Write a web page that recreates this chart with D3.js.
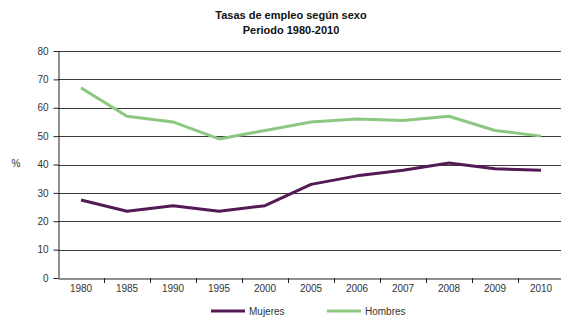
<!DOCTYPE html>
<html>
<head>
<meta charset="utf-8">
<script src="https://cdn.jsdelivr.net/npm/d3@7"></script>
<style>
  body { margin: 0; background: #fff; }
  text { font-family: "Liberation Sans", Arial, sans-serif; }
</style>
</head>
<body>
<div id="chart"></div>
<script>
var years = ["1980", "1985", "1990", "1995", "2000", "2005", "2006", "2007", "2008", "2009", "2010"];
var mujeres = [27.5, 23.5, 25.5, 23.5, 25.5, 33, 36, 38, 40.5, 38.5, 38];
var hombres = [67, 57, 55, 49, 52, 55, 56, 55.5, 57, 52, 50];
var yTicks = [0, 10, 20, 30, 40, 50, 60, 70, 80];

var width = 561,
    height = 317;

var plotLeft = 58, plotTop = 51, plotBottom = 278, plotRight = 564;

var svg = d3.select("#chart")
    .append("svg")
    .attr("width", width)
    .attr("height", height);

var x = d3.scaleBand()
    .domain(years)
    .range([plotLeft, plotRight]);

var y = d3.scaleLinear()
    .domain([0, 80])
    .range([plotBottom, plotTop]);

// title
svg.append("text")
    .attr("x", 291).attr("y", 19)
    .attr("text-anchor", "middle")
    .style("font-size", "11px").style("font-weight", "bold").attr("fill", "#111")
    .text("Tasas de empleo según sexo");
svg.append("text")
    .attr("x", 291).attr("y", 34)
    .attr("text-anchor", "middle")
    .style("font-size", "11px").style("font-weight", "bold").attr("fill", "#111")
    .text("Periodo 1980-2010");

// gridlines
svg.selectAll(".grid")
    .data(yTicks.filter(function (d) { return d > 0; }))
    .enter().append("line")
    .attr("x1", plotLeft).attr("x2", width)
    .attr("y1", function (d) { return Math.round(y(d)) + 0.5; })
    .attr("y2", function (d) { return Math.round(y(d)) + 0.5; })
    .attr("stroke", "#3a3a3a")
    .attr("stroke-width", 1);

// y axis
var yAxis = svg.append("g")
    .attr("transform", "translate(" + (plotLeft + 0.5) + ",0)")
    .call(d3.axisLeft(y).tickValues(yTicks).tickSize(5).tickPadding(5).tickSizeOuter(0));

// x axis
var xAxis = svg.append("g")
    .attr("transform", "translate(0," + (Math.round(y(0)) + 0.5) + ")")
    .call(d3.axisBottom(x).tickSize(0).tickPadding(6).tickSizeOuter(0));

[yAxis, xAxis].forEach(function (a) {
    a.select(".domain").attr("stroke", "#222");
    a.selectAll(".tick line").attr("stroke", "#222");
    a.selectAll("text").style("font-size", "10px").attr("fill", "#333")
        .style("font-family", "'Liberation Sans', Arial, sans-serif");
});

// x tick marks at band boundaries
svg.selectAll(".xtick")
    .data(years.slice(1))
    .enter().append("line")
    .attr("x1", function (d) { return Math.round(x(d)) + 0.5; })
    .attr("x2", function (d) { return Math.round(x(d)) + 0.5; })
    .attr("y1", Math.round(y(0)))
    .attr("y2", Math.round(y(0)) + 5)
    .attr("stroke", "#222");

svg.append("text")
    .attr("x", 16).attr("y", 167)
    .attr("text-anchor", "middle")
    .style("font-size", "10px").attr("fill", "#333")
    .text("%");

var line = d3.line()
    .x(function (d, i) { return x(years[i]) + x.bandwidth() / 2; })
    .y(function (d) { return y(d); });

var series = [
    { name: "Mujeres", values: mujeres, color: "#531a55" },
    { name: "Hombres", values: hombres, color: "#8dc882" }
];

series.forEach(function (s) {
    svg.append("path")
        .datum(s.values)
        .attr("d", line)
        .attr("fill", "none")
        .attr("stroke", s.color)
        .attr("stroke-width", 3)
        .attr("stroke-linejoin", "round");
});

// legend
var legendX = [211, 327];
series.forEach(function (s, i) {
    svg.append("line")
        .attr("x1", legendX[i]).attr("x2", legendX[i] + 34)
        .attr("y1", 311).attr("y2", 311)
        .attr("stroke", s.color).attr("stroke-width", 3);
    svg.append("text")
        .attr("x", legendX[i] + 38).attr("y", 315)
        .style("font-size", "10px").attr("fill", "#333")
        .text(s.name);
});
</script>
</body>
</html>
